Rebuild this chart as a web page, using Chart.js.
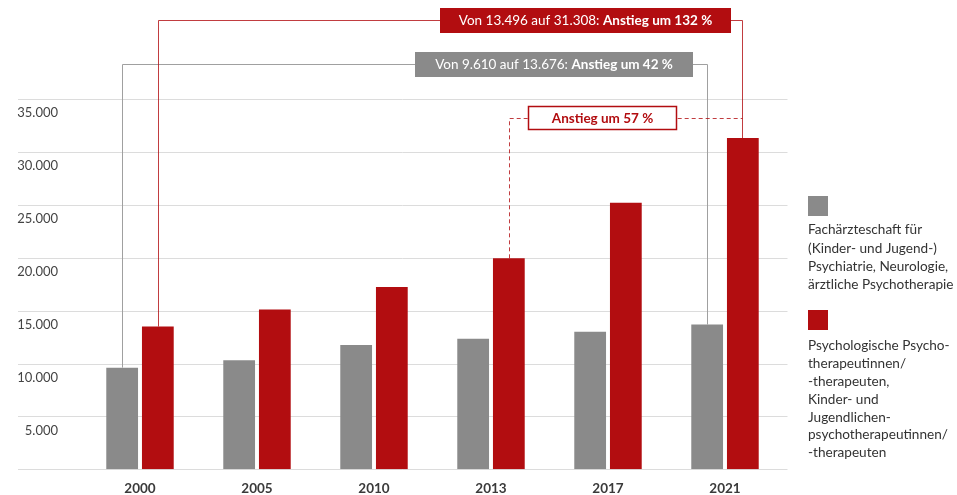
<!DOCTYPE html>
<html lang="de">
<head>
<meta charset="utf-8">
<title>Fachärzte und Psychotherapeuten</title>
<script src="https://cdn.jsdelivr.net/npm/chart.js@4.4.1/dist/chart.umd.min.js"></script>
<style>
  html, body { margin: 0; padding: 0; background: #fff; }
  #wrap { position: relative; width: 957px; height: 495px; }
</style>
</head>
<body>
<div id="wrap"><canvas id="chart" width="957" height="495"></canvas></div>
<script>
const years = ['2000', '2005', '2010', '2013', '2017', '2021'];
const fachaerzte = [9610, 10300, 11750, 12330, 13000, 13676];
const psychotherapeuten = [13496, 15110, 17230, 19941, 25200, 31308];

const legendGray = ['Fachärzteschaft für', '(Kinder- und Jugend-)', 'Psychiatrie, Neurologie,', 'ärztliche Psychotherapie'];
const legendRed = ['Psychologische Psycho-', 'therapeutinnen/', '-therapeuten,', 'Kinder- und', 'Jugendlichen-', 'psychotherapeutinnen/', '-therapeuten'];

const noteRed = ['Von 13.496 auf 31.308: ', 'Anstieg um 132 %'];
const noteGray = ['Von 9.610 auf 13.676: ', 'Anstieg um 42 %'];
const noteDashed = ['', 'Anstieg um 57 %'];

const GRAY = '#8a8a8a';
const RED = '#b20d10';
const FONT = 'Lato';

const fmt = v => String(v).replace(/\B(?=(\d{3})+(?!\d))/g, '.');

// light horizontal lines, running under the tick labels too
const gridLines = {
  id: 'gridLines',
  beforeDatasetsDraw(chart) {
    const { ctx, chartArea, scales: { y } } = chart;
    ctx.save();
    ctx.strokeStyle = '#dcdcdc';
    ctx.lineWidth = 1;
    y.ticks.forEach(t => {
      const py = Math.round(y.getPixelForValue(t.value)) + 0.5;
      ctx.beginPath();
      ctx.moveTo(18, py);
      ctx.lineTo(chartArea.right + 4, py);
      ctx.stroke();
    });
    ctx.restore();
  }
};

function elbow(ctx, x1, y1, yTop, x2, y2) {
  ctx.beginPath();
  ctx.moveTo(x1, y1);
  ctx.lineTo(x1, yTop);
  ctx.lineTo(x2, yTop);
  ctx.lineTo(x2, y2);
  ctx.stroke();
}

function mixedText(ctx, parts, cx, cy, color) {
  const size = 13.5;
  ctx.font = `${size}px ${FONT}`;
  const w1 = ctx.measureText(parts[0]).width;
  ctx.font = `bold ${size}px ${FONT}`;
  const w2 = ctx.measureText(parts[1]).width;
  const x = cx - (w1 + w2) / 2;
  ctx.fillStyle = color;
  ctx.textBaseline = 'middle';
  ctx.textAlign = 'left';
  ctx.font = `${size}px ${FONT}`;
  ctx.fillText(parts[0], x, cy);
  ctx.font = `bold ${size}px ${FONT}`;
  ctx.fillText(parts[1], x + w1, cy);
}

// connector lines and labels for the increases
const increases = {
  id: 'increases',
  afterDatasetsDraw(chart) {
    const ctx = chart.ctx;
    const bar = (ds, i) => chart.getDatasetMeta(ds).data[i];
    const g0 = bar(0, 0), g5 = bar(0, 5);
    const r0 = bar(1, 0), r3 = bar(1, 3), r5 = bar(1, 5);
    ctx.save();
    ctx.lineWidth = 1;

    ctx.strokeStyle = '#a0a0a0';
    elbow(ctx, Math.round(g0.x) + 0.5, g0.y, 64.5, Math.round(g5.x) + 0.5, g5.y);

    ctx.strokeStyle = 'rgba(178,13,16,0.8)';
    elbow(ctx, Math.round(r0.x) + 0.5, r0.y, 20.5, Math.round(r5.x) - 0.5, r5.y);

    ctx.setLineDash([4, 3]);
    ctx.beginPath();
    ctx.moveTo(Math.round(r3.x) + 0.5, r3.y);
    ctx.lineTo(Math.round(r3.x) + 0.5, 118.5);
    ctx.lineTo(Math.round(r5.x) - 0.5, 118.5);
    ctx.stroke();
    ctx.setLineDash([]);

    ctx.fillStyle = RED;
    ctx.fillRect(440, 8, 291, 25);
    mixedText(ctx, noteRed, 585.5, 21, '#fff');

    ctx.fillStyle = GRAY;
    ctx.fillRect(415, 52, 278, 25);
    mixedText(ctx, noteGray, 554, 64.5, '#fff');

    ctx.fillStyle = '#fff';
    ctx.fillRect(528, 106, 149, 24);
    ctx.strokeStyle = RED;
    ctx.lineWidth = 1.5;
    ctx.strokeRect(528.5, 106.5, 148, 23);
    mixedText(ctx, noteDashed, 602.5, 118.5, RED);
    ctx.restore();
  }
};

// legend on the right: square above a wrapped label
const sideLegend = {
  id: 'sideLegend',
  afterDraw(chart) {
    const ctx = chart.ctx;
    ctx.save();
    ctx.font = `13.6px ${FONT}`;
    ctx.textBaseline = 'middle';
    ctx.textAlign = 'left';

    ctx.fillStyle = GRAY;
    ctx.fillRect(808, 196, 20, 20);
    ctx.fillStyle = '#333';
    legendGray.forEach((line, i) => ctx.fillText(line, 808, 230 + i * 18.3));

    ctx.fillStyle = RED;
    ctx.fillRect(808, 310, 20, 20);
    ctx.fillStyle = '#333';
    legendRed.forEach((line, i) => ctx.fillText(line, 808, 346 + i * 17.8));
    ctx.restore();
  }
};

Chart.defaults.font.family = FONT;

new Chart(document.getElementById('chart'), {
  type: 'bar',
  data: {
    labels: years,
    datasets: [
      {
        label: legendGray.join(' '),
        data: fachaerzte,
        backgroundColor: GRAY,
        borderWidth: 0,
        categoryPercentage: 0.61,
        barPercentage: 0.89
      },
      {
        label: legendRed.join(' '),
        data: psychotherapeuten,
        backgroundColor: RED,
        borderWidth: 0,
        categoryPercentage: 0.61,
        barPercentage: 0.89
      }
    ]
  },
  options: {
    responsive: false,
    animation: false,
    layout: { padding: { top: 99, right: 173.5, left: 0, bottom: 0 } },
    scales: {
      x: {
        grid: { display: false, drawTicks: false },
        border: { display: false },
        ticks: {
          color: '#3a3a3a',
          font: { family: FONT, size: 13.5, weight: 'bold' },
          padding: 11
        },
        afterFit: s => { s.height = 25.7; s.paddingLeft = 0; s.paddingRight = 0; }
      },
      y: {
        min: 0,
        max: 35000,
        grid: { display: false, drawTicks: false },
        border: { display: false },
        ticks: {
          stepSize: 5000,
          color: '#444',
          font: { family: FONT, size: 13 },
          padding: 23.5,
          labelOffset: 14,
          callback: v => (v === 0 ? '' : fmt(v))
        },
        afterFit: s => { s.width = 81.5; s.paddingTop = 0; s.paddingBottom = 0; }
      }
    },
    plugins: {
      legend: { display: false },
      tooltip: { enabled: false }
    }
  },
  plugins: [gridLines, increases, sideLegend]
});
</script>
</body>
</html>
